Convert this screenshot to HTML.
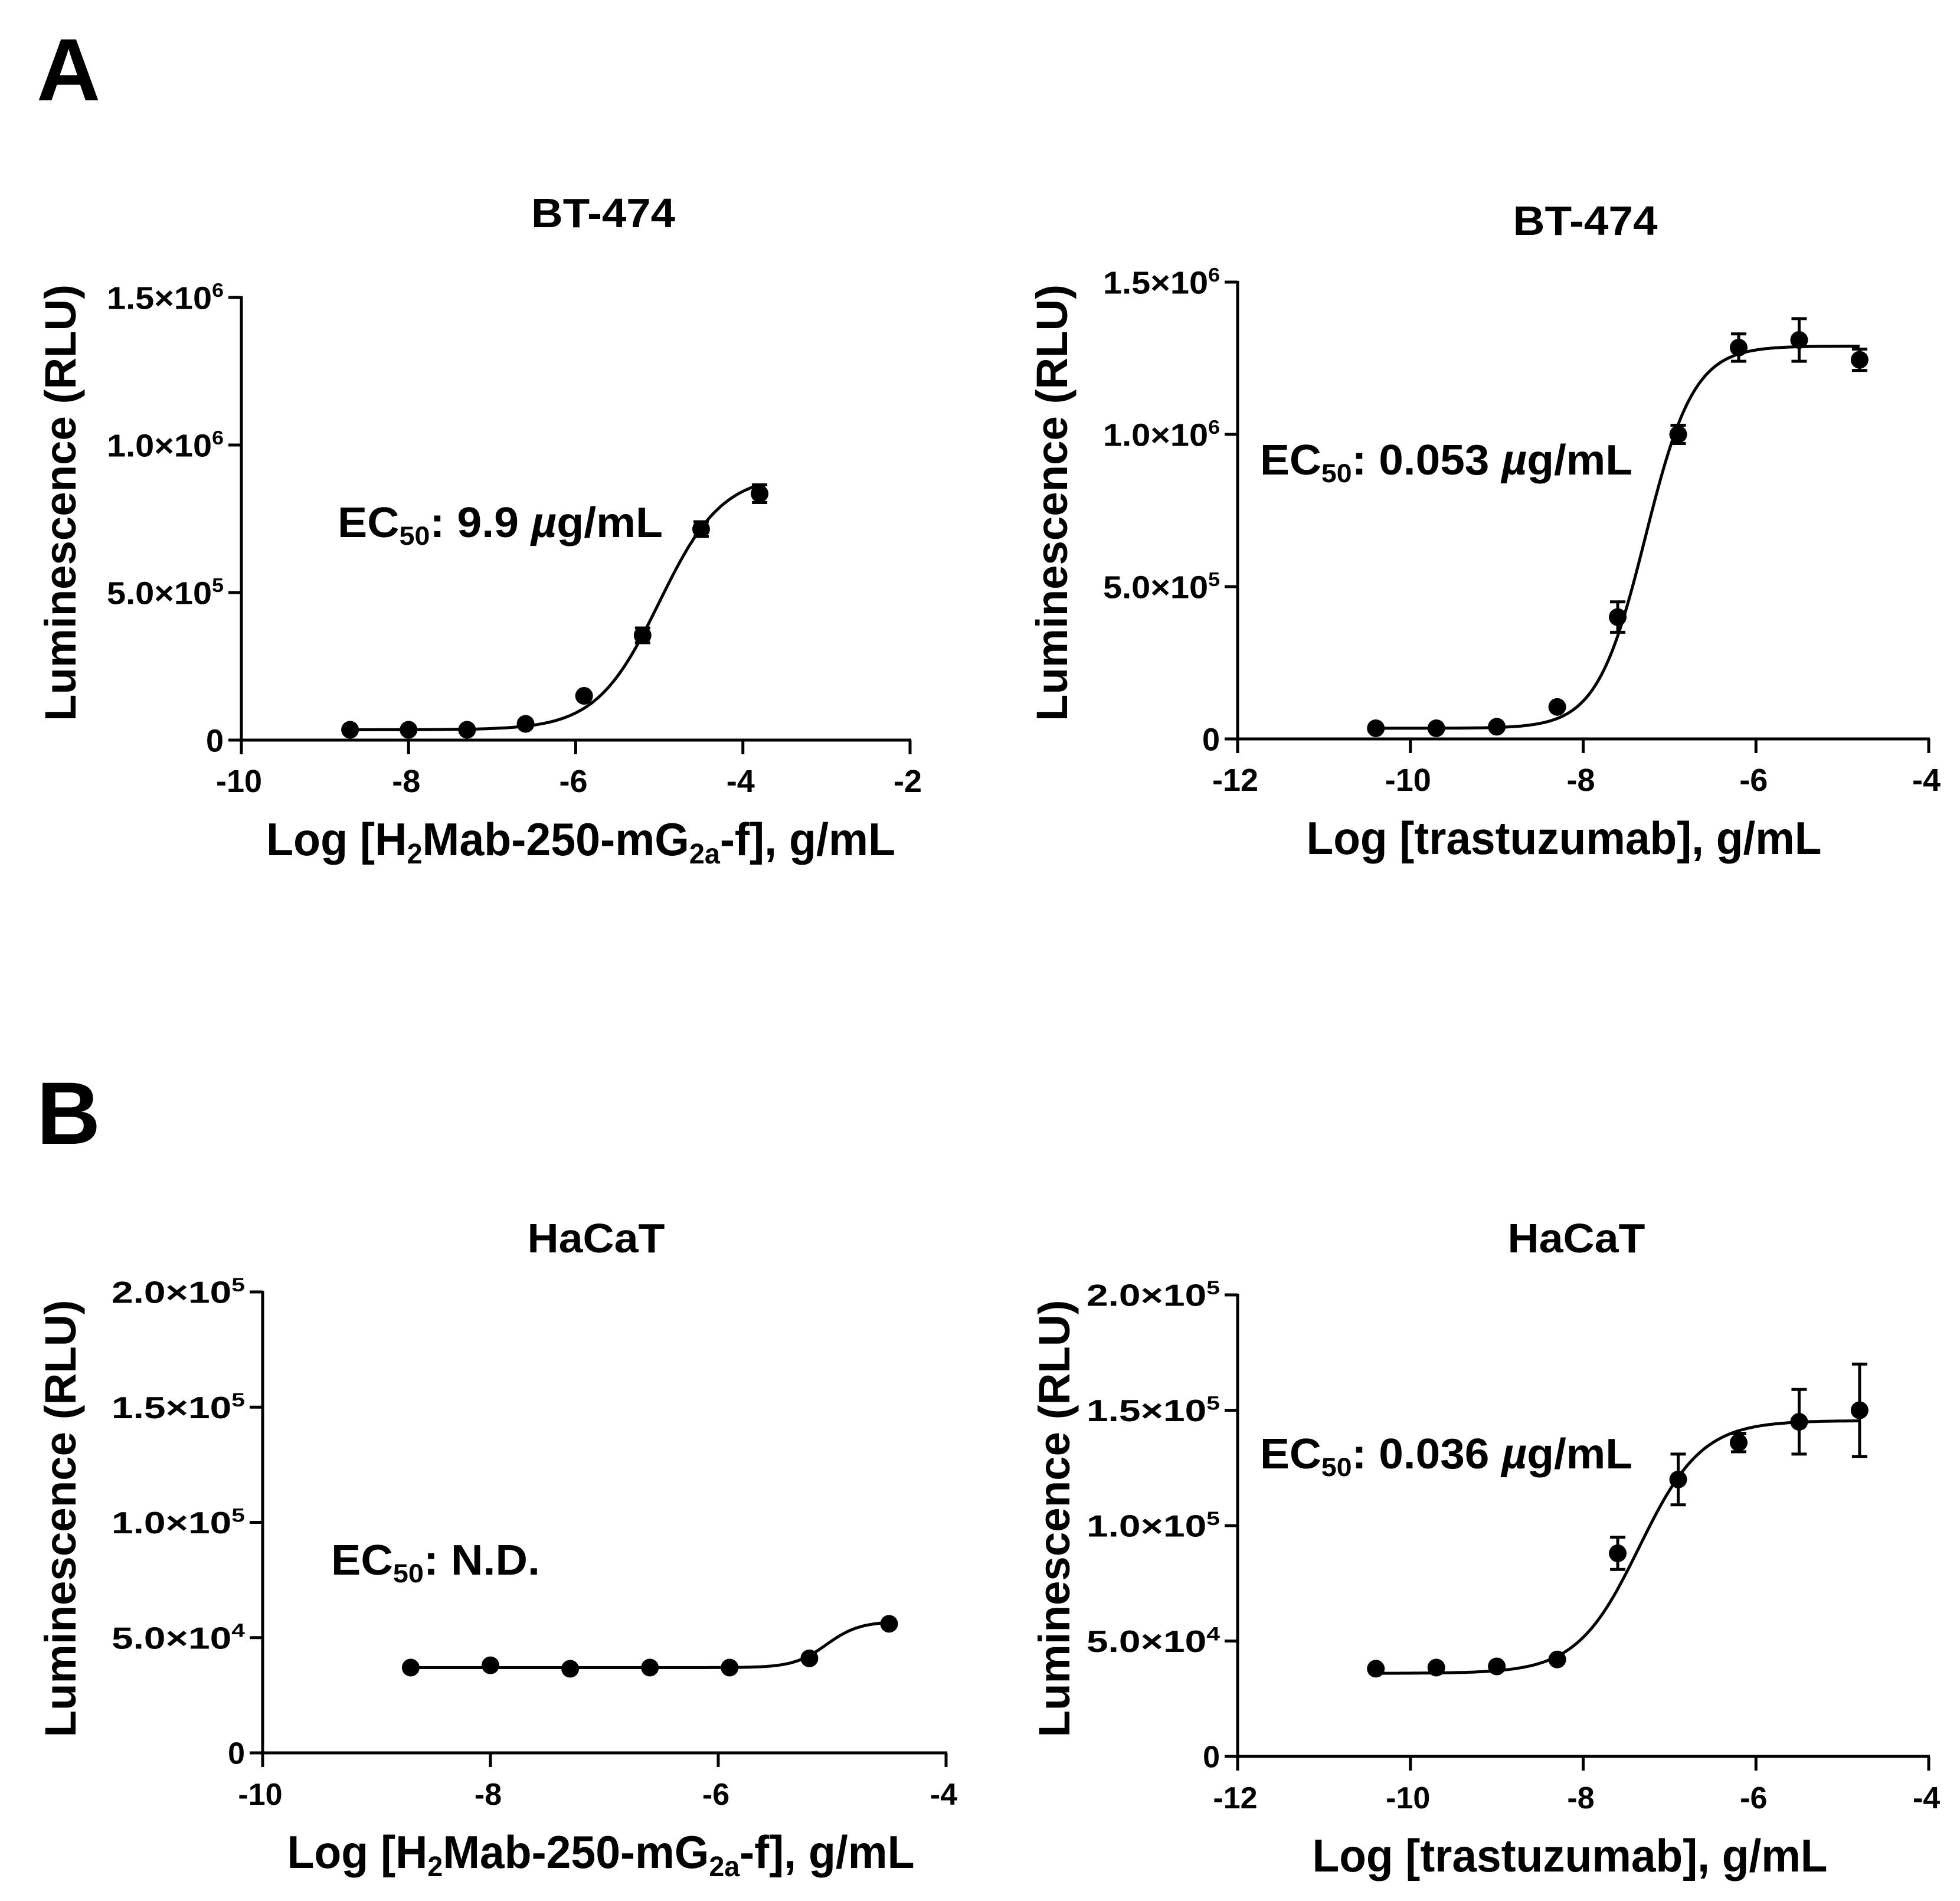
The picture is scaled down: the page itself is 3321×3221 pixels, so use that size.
<!DOCTYPE html>
<html><head><meta charset="utf-8">
<style>
html,body{margin:0;padding:0;background:#fff;}
svg{display:block;font-family:"Liberation Sans",Arial,sans-serif;font-weight:bold;}
</style></head>
<body>
<svg id="fig" width="3321" height="3221" viewBox="0 0 3321 3221" xmlns="http://www.w3.org/2000/svg">
<rect width="3321" height="3221" fill="#fff"/>
<text x="62" y="170" font-size="150" font-weight="900">A</text>
<text x="62" y="1938" font-size="150" font-weight="900">B</text>
</svg>
<script>
// ---- data: panel A left (BT-474, H2Mab-250-mG2a-f)
const aLeftX = [-8.7, -8.0, -7.3, -6.6, -5.9, -5.2, -4.5, -3.8];
const aLeftY = [35000, 35000, 35000, 55000, 150000, 355000, 715000, 835000];
const aLeftErr = [8000, 8000, 8000, 8000, 10000, 25000, 25000, 30000];
const aLeftFit = [35000, 900000, -5.0, 1.15]; // bottom, top, logEC50, hill
const aLeftXTicks = [-10, -8, -6, -4, -2];
const aLeftYTicks = [0, 500000, 1000000, 1500000];
const aLeftYLabels = [["0",""],["5.0×10","5"],["1.0×10","6"],["1.5×10","6"]];
// ---- panel A right (BT-474, trastuzumab)
const aRightX = [-10.4, -9.7, -9.0, -8.3, -7.6, -6.9, -6.2, -5.5, -4.8];
const aRightY = [35000, 35000, 40000, 105000, 400000, 1000000, 1285000, 1310000, 1245000];
const aRightErr = [8000, 8000, 8000, 10000, 50000, 30000, 45000, 70000, 35000];
const aRightFit = [35000, 1290000, -7.28, 1.55];
const aRightXTicks = [-12, -10, -8, -6, -4];
const aRightYTicks = [0, 500000, 1000000, 1500000];
const aRightYLabels = [["0",""],["5.0×10","5"],["1.0×10","6"],["1.5×10","6"]];
// ---- panel B left (HaCaT, H2Mab-250-mG2a-f)
const bLeftX = [-8.7, -8.0, -7.3, -6.6, -5.9, -5.2, -4.5];
const bLeftY = [37000, 38000, 36500, 37000, 37000, 41000, 56000];
const bLeftErr = [600, 600, 600, 600, 600, 1500, 1000];
const bLeftFit = [37000, 57000, -5.05, 3.0];
const bLeftXTicks = [-10, -8, -6, -4];
const bLeftYTicks = [0, 50000, 100000, 150000, 200000];
const bLeftYLabels = [["0",""],["5.0×10","4"],["1.0×10","5"],["1.5×10","5"],["2.0×10","5"]];
// ---- panel B right (HaCaT, trastuzumab)
const bRightX = [-10.4, -9.7, -9.0, -8.3, -7.6, -6.9, -6.2, -5.5, -4.8];
const bRightY = [38000, 38500, 39000, 42000, 88000, 120000, 136000, 145000, 150000];
const bRightErr = [800, 800, 800, 800, 7000, 11000, 4000, 14000, 20000];
const bRightFit = [36000, 145500, -7.35, 1.2];
const bRightXTicks = [-12, -10, -8, -6, -4];
const bRightYTicks = [0, 50000, 100000, 150000, 200000];
const bRightYLabels = [["0",""],["5.0×10","4"],["1.0×10","5"],["1.5×10","5"],["2.0×10","5"]];

const NS = "http://www.w3.org/2000/svg";
const svg = document.getElementById('fig');
function mk(tag, attrs, parent){
  const e = document.createElementNS(NS, tag);
  for (const k in attrs) e.setAttribute(k, attrs[k]);
  (parent||svg).appendChild(e);
  return e;
}
function richText(parent, x, y, size, parts, anchor, len){
  const t = mk('text', {x:x, y:y, 'font-size':size, 'text-anchor':anchor||'start'}, parent);
  if (len){ t.setAttribute('textLength', len); t.setAttribute('lengthAdjust','spacingAndGlyphs'); }
  let pending = 0;
  parts.forEach(p => {
    const s = document.createElementNS(NS,'tspan');
    s.textContent = p[0];
    let dy = pending; pending = 0;
    if (p[1]==='sub'){ s.setAttribute('font-size', size*0.62); dy += size*0.18; pending = -size*0.18; }
    else if (p[1]==='sup'){ s.setAttribute('font-size', size*0.62); dy += -size*0.38; pending = size*0.38; }
    else if (p[1]==='it'){ s.setAttribute('font-style','italic'); }
    if (dy) s.setAttribute('dy', dy);
    t.appendChild(s);
  });
  return t;
}

function chart(c){
  const g = mk('g', {});
  
  
  const sx = v => c.px0 + (v - c.xmin)/(c.xmax - c.xmin)*(c.px1 - c.px0);
  const sy = v => c.py0 - (v - c.ymin)/(c.ymax - c.ymin)*(c.py0 - c.py1);
  const ax = mk('line', {x1:c.px0-22, y1:c.py0, x2:c.px1+2, y2:c.py0, stroke:'#000','stroke-width':5}, g);
   
  const ay = mk('line', {x1:c.px0, y1:c.py0+24, x2:c.px0, y2:c.py1-2, stroke:'#000','stroke-width':5}, g);
   
  c.xticks.forEach(v => {
    mk('line', {x1:sx(v), y1:c.py0, x2:sx(v), y2:c.py0+24, stroke:'#000','stroke-width':5}, g);
    const t = mk('text', {x:sx(v)-4, y:c.py0+88, 'font-size':c.tickSize, 'text-anchor':'middle'}, g);
    t.textContent = String(v);
     
  });
  c.yticks.forEach((v,i) => {
    mk('line', {x1:c.px0-22, y1:sy(v), x2:c.px0, y2:sy(v), stroke:'#000','stroke-width':5}, g);
    const lab = c.ylabels[i];
    const parts = lab[1] ? [[lab[0],''],[lab[1],'sup']] : [[lab[0],'']];
    const t = richText(g, c.px0-30, sy(v)+c.tickSize*0.36, c.tickSize, parts, 'end', lab[1]?c.ylabW:null);
     
  });
  const tt = mk('text', {x:c.titleX, y:c.titleY, 'font-size':70, 'text-anchor':'middle', textLength:c.titleW, lengthAdjust:'spacingAndGlyphs'}, g);
  tt.textContent = c.title;
   
  const xt = richText(g, c.xtX, c.py0+195, 78, c.xtParts, 'middle', c.xtW);
   
  const ygr = mk('g', {transform:`translate(${c.ytX},${c.ytY}) rotate(-90)`}, g);
  const yt = mk('text', {x:0, y:0, 'font-size':74, 'text-anchor':'middle', textLength:c.ytW, lengthAdjust:'spacingAndGlyphs'}, ygr);
  yt.textContent = 'Luminescence (RLU)';
   
  const ec = richText(g, c.ecX, c.ecY, 72, c.ecParts, 'start', c.ecW);
   
  const f = c.fit; let d = '';
  const xs = c.xs[0], xe = c.xs[c.xs.length-1];
  for (let i=0;i<=200;i++){
    const x = xs + (xe-xs)*i/200;
    const y = f[0] + (f[1]-f[0])/(1+Math.pow(10,(f[2]-x)*f[3]));
    d += (i?'L':'M') + sx(x).toFixed(1) + ' ' + sy(y).toFixed(1);
  }
  const cv = mk('path', {d:d, fill:'none', stroke:'#000', 'stroke-width':5}, g);
   
  c.xs.forEach((x,i) => {
    const y = c.ys[i], e = c.err[i];
    const X = sx(x);
    if (sy(y-e) - sy(y+e) > 18){
      const eb = mk('path', {d:`M${X} ${sy(y+e)}V${sy(y-e)}M${X-13} ${sy(y+e)}H${X+13}M${X-13} ${sy(y-e)}H${X+13}`, stroke:'#000','stroke-width':5, fill:'none'}, g);
       
    }
    const p = mk('circle', {cx:X, cy:sy(y), r:15, fill:'#000'}, g);
     
  });
}

const mu = [' µ','it'];
chart({name:'chart-a-left', px0:409, px1:1542, py0:1254, py1:504, xmin:-10, xmax:-2, ymin:0, ymax:1500000,
  xs:aLeftX, ys:aLeftY, err:aLeftErr, fit:aLeftFit, xticks:aLeftXTicks, yticks:aLeftYTicks, ylabels:aLeftYLabels,
  tickSize:54, ylabW:198, title:'BT-474', titleX:1022, titleY:385, titleW:244,
  xtX:984, xtW:1066, xtParts:[['Log [H',''],['2','sub'],['Mab-250-mG',''],['2a','sub'],['-f], g/mL','']],
  ytX:128, ytY:852, ytW:740,
  ecX:572, ecY:910, ecW:551, ecParts:[['EC',''],['50','sub'],[': 9.9',''],mu,['g/mL','']]});
chart({name:'chart-a-right', px0:2097, px1:3268, py0:1252, py1:478, xmin:-12, xmax:-4, ymin:0, ymax:1500000,
  xs:aRightX, ys:aRightY, err:aRightErr, fit:aRightFit, xticks:aRightXTicks, yticks:aRightYTicks, ylabels:aRightYLabels,
  tickSize:54, ylabW:198, title:'BT-474', titleX:2686, titleY:398, titleW:245,
  xtX:2650, xtW:873, xtParts:[['Log [trastuzumab], g/mL','']],
  ytX:1808, ytY:852, ytW:740,
  ecX:2135, ecY:804, ecW:631, ecParts:[['EC',''],['50','sub'],[': 0.053',''],mu,['g/mL','']]});
chart({name:'chart-b-left', px0:445, px1:1603, py0:2970, py1:2189, xmin:-10, xmax:-4, ymin:0, ymax:200000,
  xs:bLeftX, ys:bLeftY, err:bLeftErr, fit:bLeftFit, xticks:bLeftXTicks, yticks:bLeftYTicks, ylabels:bLeftYLabels,
  tickSize:52, ylabW:226, title:'HaCaT', titleX:1010, titleY:2122, titleW:233,
  xtX:1018, xtW:1063, xtParts:[['Log [H',''],['2','sub'],['Mab-250-mG',''],['2a','sub'],['-f], g/mL','']],
  ytX:128, ytY:2573, ytW:741,
  ecX:561, ecY:2668, ecW:354, ecParts:[['EC',''],['50','sub'],[': N.D.','']]});
chart({name:'chart-b-right', px0:2097, px1:3268, py0:2976, py1:2194, xmin:-12, xmax:-4, ymin:0, ymax:200000,
  xs:bRightX, ys:bRightY, err:bRightErr, fit:bRightFit, xticks:bRightXTicks, yticks:bRightYTicks, ylabels:bRightYLabels,
  tickSize:52, ylabW:226, title:'HaCaT', titleX:2671, titleY:2122, titleW:233,
  xtX:2660, xtW:873, xtParts:[['Log [trastuzumab], g/mL','']],
  ytX:1812, ytY:2573, ytW:741,
  ecX:2135, ecY:2488, ecW:631, ecParts:[['EC',''],['50','sub'],[': 0.036',''],mu,['g/mL','']]});
</script>
</body></html>
